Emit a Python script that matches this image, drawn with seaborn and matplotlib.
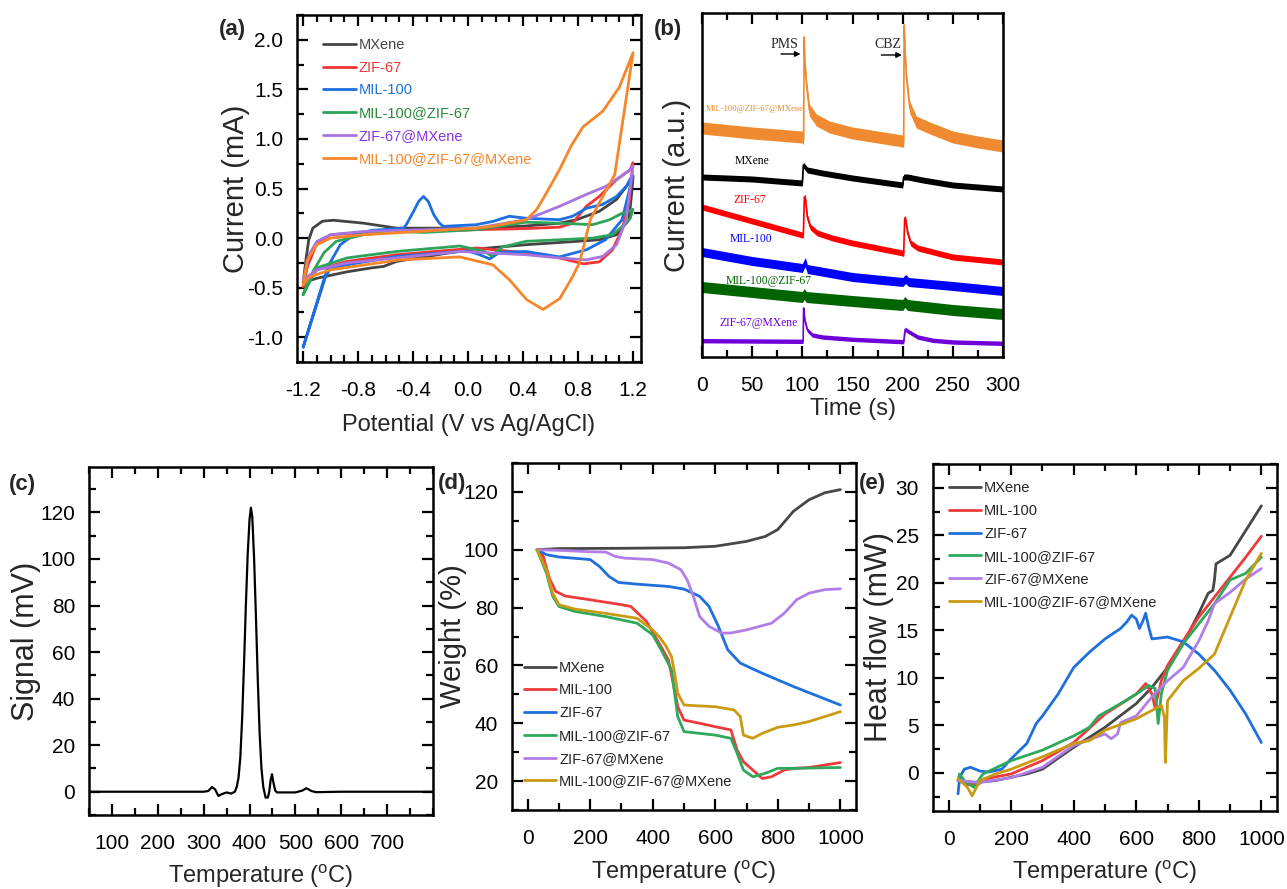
import numpy as np
import pandas as pd
import matplotlib
matplotlib.use('Agg')
import matplotlib.pyplot as plt
import seaborn as sns
from matplotlib.ticker import MultipleLocator, FormatStrFormatter

# ---------------- data: (a) CV loops ----------------
cv_names = ['MXene', 'ZIF-67', 'MIL-100', 'MIL-100@ZIF-67', 'ZIF-67@MXene', 'MIL-100@ZIF-67@MXene']
cv_colors = ['#444444', '#f03535', '#1c6fe0', '#2ea35a', '#a874e0', '#f5862a']
cv_text_colors = ['#444444', '#f03535', '#1c6fe0', '#2a8a3a', '#8a35e0', '#f5862a']

mxene_V = [-1.2, -1.18, -1.16, -1.13, -1.06, -0.98, -0.76, -0.52, 0.06, 0.4, 0.665, 0.79, 0.955, 1.08, 1.17, 1.2,
           1.19, 1.17, 1.08, 0.955, 0.79, 0.42, 0.0, -0.52, -0.615, -0.7, -0.88, -1.1, -1.2]
mxene_I = [-0.45, -0.22, -0.02, 0.10, 0.17, 0.18, 0.15, 0.10, 0.10, 0.12, 0.15, 0.185, 0.27, 0.39, 0.555, 0.62,
           0.45, 0.185, 0.034, -0.017, -0.033, -0.067, -0.118, -0.235, -0.286, -0.30, -0.34, -0.405, -0.45]

zif_V = [-1.2, -1.17, -1.1, -1.0, -0.76, -0.3, 0.06, 0.4, 0.665, 0.76, 0.86, 0.955, 1.08, 1.18, 1.2,
         1.17, 1.12, 1.05, 0.955, 0.84, 0.665, 0.42, 0.06, -0.52, -0.88, -1.1, -1.2]
zif_I = [-0.49, -0.29, -0.05, 0.034, 0.057, 0.07, 0.085, 0.095, 0.11, 0.15, 0.32, 0.42, 0.59, 0.69, 0.76,
         0.354, 0.085, -0.12, -0.24, -0.26, -0.2, -0.15, -0.1, -0.168, -0.235, -0.32, -0.49]

mil_V = [-1.2, -1.02, -0.93, -0.83, -0.70, -0.47, -0.45, -0.39, -0.36, -0.325, -0.29, -0.25, -0.21, -0.18, 0.06, 0.18,
         0.30, 0.42, 0.665, 0.76, 0.86, 0.98, 1.08, 1.15, 1.19, 1.2,
         1.18, 1.12, 1.0, 0.86, 0.665, 0.42, 0.23, 0.157, 0.085, 0.0, -0.52, -0.88, -1.0, -1.04, -1.2]
mil_I = [-1.1, -0.286, -0.067, 0.034, 0.078, 0.10, 0.135, 0.287, 0.37, 0.42, 0.37, 0.236, 0.152, 0.118, 0.135, 0.168,
         0.22, 0.2, 0.185, 0.22, 0.30, 0.34, 0.42, 0.52, 0.62, 0.63,
         0.52, 0.185, -0.017, -0.118, -0.19, -0.135, -0.143, -0.21, -0.168, -0.13, -0.185, -0.27, -0.30, -0.40, -1.1]

milzif_V = [-1.2, -1.15, -1.05, -0.96, -0.76, -0.52, -0.325, 0.06, 0.42, 0.665, 0.907, 1.03, 1.12, 1.17, 1.2,
            1.18, 1.15, 1.05, 0.907, 0.665, 0.42, 0.25, 0.17, 0.12, -0.06, -0.52, -0.88, -1.1, -1.2]
milzif_I = [-0.57, -0.39, -0.15, -0.033, 0.034, 0.067, 0.057, 0.085, 0.16, 0.15, 0.135, 0.185, 0.25, 0.27, 0.29,
            0.2, 0.15, 0.034, 0.0, -0.017, -0.033, -0.09, -0.18, -0.135, -0.08, -0.135, -0.2, -0.30, -0.57]

zifmx_V = [-1.2, -1.15, -1.1, -1.0, -0.76, 0.06, 0.42, 0.665, 0.86, 1.0, 1.1, 1.18, 1.2,
           1.18, 1.15, 1.08, 0.98, 0.86, 0.665, 0.42, -0.06, -0.52, -0.88, -1.1, -1.2]
zifmx_I = [-0.42, -0.15, -0.033, 0.034, 0.067, 0.10, 0.185, 0.32, 0.44, 0.52, 0.61, 0.69, 0.73,
           0.52, 0.185, -0.067, -0.185, -0.22, -0.2, -0.168, -0.135, -0.2, -0.25, -0.32, -0.42]

all_V = [-1.2, -1.17, -1.1, -1.0, -0.76, 0.06, 0.18, 0.425, 0.50, 0.57, 0.665, 0.75, 0.835, 0.98, 1.10, 1.2,
         1.067, 0.89, 0.81, 0.76, 0.667, 0.545, 0.425, 0.30, 0.18, -0.06, -0.5, -1.0, -1.15, -1.2]
all_I = [-0.47, -0.22, -0.067, 0.0, 0.034, 0.10, 0.12, 0.185, 0.29, 0.455, 0.69, 0.93, 1.12, 1.28, 1.52, 1.87,
         0.64, 0.19, -0.25, -0.39, -0.61, -0.72, -0.62, -0.42, -0.27, -0.19, -0.22, -0.32, -0.39, -0.47]

cv_V = [mxene_V, zif_V, mil_V, milzif_V, zifmx_V, all_V]
cv_I = [mxene_I, zif_I, mil_I, milzif_I, zifmx_I, all_I]

# ---------------- data: (b) i-t curves (a.u.) ----------------
it_names = ['MIL-100@ZIF-67@MXene', 'MXene', 'ZIF-67', 'MIL-100', 'MIL-100@ZIF-67', 'ZIF-67@MXene']
it_colors = ['#f08a30', '#000000', '#ff0000', '#0000ff', '#006400', '#7000d8']

it_t_orange = [0, 50, 100, 101.3, 101.8, 102.5, 104, 107, 114, 127, 150, 175, 200, 201, 201.5, 202.5, 203.7, 207, 213.6, 227, 250, 275, 300]
it_y_orange = [22.9, 22.4, 22.0, 21.8, 32.0, 29.5, 27.4, 24.7, 23.7, 23.0, 22.4, 22.0, 21.6, 21.5, 33.2, 30.5, 28.0, 25.0, 23.5, 22.9, 22.0, 21.5, 21.1]
it_t_black = [0, 50, 100, 101, 105, 120, 150, 200, 201, 205, 220, 250, 300]
it_y_black = [18.0, 17.8, 17.4, 19.2, 18.7, 18.4, 17.9, 17.2, 18.0, 18.0, 17.7, 17.2, 16.8]
it_t_red = [0, 50, 100, 101, 102, 103, 105, 108, 115, 130, 150, 175, 200, 201, 202, 203, 205, 208, 215, 250, 300]
it_y_red = [15.0, 13.6, 12.2, 12.2, 16.0, 15.9, 14.0, 13.0, 12.4, 11.9, 11.4, 10.9, 10.4, 10.3, 13.9, 13.7, 12.4, 11.4, 10.9, 10.0, 9.5]
it_t_blue = [0, 50, 100, 103, 105, 150, 200, 203, 206, 250, 300]
it_y_blue = [10.5, 9.6, 8.9, 9.5, 8.8, 8.0, 7.5, 7.8, 7.5, 7.1, 6.6]
it_t_green = [0, 50, 100, 102, 104, 150, 200, 202, 205, 250, 300]
it_y_green = [7.0, 6.5, 6.0, 6.3, 6.0, 5.6, 5.2, 5.5, 5.2, 4.7, 4.3]
it_t_purple = [0, 50, 100, 100.8, 101.3, 102.5, 105, 110, 120, 150, 200, 201, 202.5, 205, 215, 230, 250, 300]
it_y_purple = [1.63, 1.6, 1.57, 1.6, 4.9, 3.7, 2.7, 2.2, 2.0, 1.77, 1.53, 1.53, 2.77, 2.6, 2.0, 1.67, 1.5, 1.37]
it_t = [it_t_orange, it_t_black, it_t_red, it_t_blue, it_t_green, it_t_purple]
it_y = [it_y_orange, it_y_black, it_y_red, it_y_blue, it_y_green, it_y_purple]
it_label_t = [53, 50, 48, 49, 67, 56]
it_label_y = [24.8, 19.6, 15.7, 11.8, 7.6, 3.4]

# style: thickness of each current trace (noise band half-height, a.u.) and label sizes
it_band = [0.6, 0.3, 0.3, 0.45, 0.55, 0.22]
it_label_size = [6.2, 8.4, 8.4, 8.4, 8.4, 8.4]

# ---------------- data: (c) signal ----------------
c_T = [50, 100, 200, 300, 310, 318, 325, 332, 340, 350, 360, 368, 372, 376, 380, 384, 388, 392, 396, 400, 403,
       406, 410, 414, 418, 422, 426, 430, 435, 440, 443, 446, 449, 452, 456, 460, 480, 500, 515, 524, 535, 545,
       600, 700, 800]
c_S = [0, 0, 0, 0, 0.3, 2.0, 1.0, -1.8, -1.0, -0.3, -0.8, 0, 2, 6, 15, 32, 55, 80, 102, 117, 122,
       118, 100, 75, 48, 25, 10, 2, -2.5, -2.5, 0, 5, 7.5, 4, 0.5, -0.3, -0.3, -0.3, 0.5, 1.5, 0.3, -0.2,
       0, 0, 0]

# ---------------- data: (d) TGA ----------------
tg_names = ['MXene', 'MIL-100', 'ZIF-67', 'MIL-100@ZIF-67', 'ZIF-67@MXene', 'MIL-100@ZIF-67@MXene']
tg_colors = ['#474747', '#ef3b3b', '#1f6fdc', '#2ea85c', '#b07ee6', '#c99a12']
d_T_mx = [30, 100, 300, 500, 600, 700, 760, 800, 850, 900, 950, 1000]
d_W_mx = [100, 100.4, 100.5, 100.7, 101.2, 102.9, 104.6, 107, 113.3, 117.3, 119.7, 120.8]
d_T_mil = [30, 50, 70, 90, 120, 200, 300, 330, 380, 420, 450, 470, 480, 500, 550, 600, 650, 670, 690, 720, 750, 780, 820, 850, 900, 1000]
d_W_mil = [100, 97.7, 90, 85.6, 84, 82.7, 81, 80.4, 75.2, 67.7, 62, 51.5, 45.8, 41.1, 40, 38.8, 37.7, 30.7, 26.7, 23.8, 20.9, 21.5, 23.8, 24.4, 24.7, 26.4]
d_T_zif = [30, 60, 100, 200, 230, 260, 290, 350, 450, 500, 550, 580, 610, 640, 680, 750, 850, 1000]
d_W_zif = [100, 98.3, 97.5, 96.6, 94.2, 90.8, 88.7, 88.1, 87.3, 86.4, 83.9, 80.4, 73.5, 65.4, 60.8, 57.3, 52.7, 46.3]
d_T_mz = [30, 60, 80, 100, 150, 250, 350, 400, 430, 460, 470, 480, 500, 600, 650, 670, 690, 720, 760, 800, 850, 1000]
d_W_mz = [100, 92, 84, 80.4, 78.7, 76.9, 74.6, 70.6, 64.8, 58.5, 50.4, 42.3, 37.1, 35.9, 34.8, 29.6, 23.8, 21.5, 22.7, 24.4, 24.4, 24.7]
d_T_zm = [30, 100, 200, 250, 280, 310, 400, 450, 490, 510, 530, 550, 580, 620, 650, 700, 780, 820, 860, 900, 950, 1000]
d_W_zm = [100, 99.8, 99.3, 99.2, 97.7, 97.1, 96.6, 95.4, 93.1, 89.6, 83.9, 76.9, 73.5, 71.2, 71.2, 72.3, 74.6, 78, 82.7, 85, 86.2, 86.5]
d_T_all = [30, 60, 80, 100, 150, 250, 350, 400, 420, 440, 460, 470, 480, 500, 600, 660, 680, 690, 720, 750, 800, 850, 900, 1000]
d_W_all = [100, 93, 85, 81, 79.5, 78, 76.3, 72.3, 70, 67.1, 63.1, 57.3, 50.4, 46.3, 45.7, 44.6, 42.3, 35.9, 34.8, 36.5, 38.6, 39.4, 40.6, 44]
d_T = [d_T_mx, d_T_mil, d_T_zif, d_T_mz, d_T_zm, d_T_all]
d_W = [d_W_mx, d_W_mil, d_W_zif, d_W_mz, d_W_zm, d_W_all]

# ---------------- data: (e) DSC ----------------
e_T_mx = [30, 80, 150, 250, 300, 400, 500, 600, 650, 700, 750, 800, 830, 845, 850, 855, 880, 900, 950, 1000]
e_H_mx = [-0.8, -1.0, -0.8, -0.1, 0.4, 2.7, 4.8, 7.3, 9.0, 11.1, 13.6, 16.8, 18.9, 19.2, 20.3, 22.0, 22.5, 22.9, 25.5, 28.1]
e_T_mil = [30, 60, 90, 120, 200, 300, 400, 500, 600, 630, 650, 660, 680, 700, 750, 800, 850, 900, 950, 1000]
e_H_mil = [-0.8, -1.2, -1.3, -0.6, -0.1, 1.3, 3.2, 6.2, 8.3, 9.4, 8.3, 6.9, 9.7, 11.3, 13.9, 16.4, 18.5, 20.6, 22.7, 24.9]
e_T_zif = [30, 35, 50, 70, 100, 130, 170, 200, 250, 280, 300, 350, 400, 450, 500, 550, 570, 585, 600, 610, 620, 630, 640, 650, 700, 750, 800, 850, 900, 950, 1000]
e_H_zif = [-2.2, -0.5, 0.4, 0.6, 0.2, 0.1, 0.4, 1.5, 3.1, 5.2, 6.0, 8.3, 11.1, 12.7, 14.1, 15.2, 15.9, 16.6, 16.2, 15.2, 15.9, 16.8, 15.3, 14.1, 14.3, 13.8, 12.5, 10.8, 8.7, 6.2, 3.2]
e_T_mz = [30, 35, 50, 80, 110, 200, 300, 400, 450, 480, 550, 600, 640, 660, 670, 680, 700, 750, 800, 850, 900, 950, 1000]
e_H_mz = [-0.8, -0.1, -0.8, -1.5, -0.1, 1.3, 2.4, 3.9, 4.8, 6.0, 7.3, 8.3, 9.2, 8.9, 5.2, 8.3, 10.8, 13.6, 15.7, 17.8, 20.3, 21.0, 22.7]
e_T_zm = [30, 100, 200, 300, 400, 500, 520, 540, 550, 600, 650, 700, 750, 800, 830, 850, 900, 950, 1000]
e_H_zm = [-0.8, -1.0, -0.5, 0.6, 2.9, 4.1, 3.6, 4.1, 5.3, 6.0, 8.0, 9.7, 11.1, 13.9, 16.0, 17.8, 19.0, 20.4, 21.5]
e_T_all = [30, 60, 75, 100, 150, 200, 300, 400, 450, 500, 600, 680, 690, 693, 700, 750, 800, 850, 900, 950, 1000]
e_H_all = [-0.6, -1.5, -2.4, -0.8, -0.1, 0.4, 1.7, 3.1, 3.4, 4.5, 5.7, 7.1, 5.9, 1.1, 7.6, 9.7, 11.0, 12.5, 16.4, 20.3, 23.1]
e_T = [e_T_mx, e_T_mil, e_T_zif, e_T_mz, e_T_zm, e_T_all]
e_H = [e_H_mx, e_H_mil, e_H_zif, e_H_mz, e_H_zm, e_H_all]

# ---------------- style ----------------
sns.set_style('ticks')
FONT = ['Liberation Sans Narrow', 'Liberation Sans', 'DejaVu Sans']
plt.rcParams['font.family'] = FONT
plt.rcParams['mathtext.fontset'] = 'custom'
plt.rcParams['mathtext.rm'] = 'Liberation Sans'
plt.rcParams['axes.linewidth'] = 1.8
plt.rcParams['axes.edgecolor'] = '#000000'

TICK_FS = 15
XLABEL_FS = 17
YLABEL_FS = 21
LEG_FS = 10.5
PANEL_FS = 16
TEMP_LABEL = r'Temperature ($^\mathregular{o}$C)'
SERIF = ['Liberation Serif', 'DejaVu Serif']

fig = plt.figure(figsize=(12.87, 8.89), dpi=100)

def box(l, t, r, b):
    W, H = 1287.0, 889.0
    return [l / W, 1 - b / H, (r - l) / W, (b - t) / H]

def style_axes(ax, xpad=14, ypad=10):
    ax.tick_params(which='both', direction='in', top=True, right=True, colors='black',
                   labelsize=TICK_FS, width=1.6)
    ax.tick_params(which='major', length=8)
    ax.tick_params(which='minor', length=5)
    ax.tick_params(axis='x', which='major', pad=xpad)
    ax.tick_params(axis='y', which='major', pad=ypad)
    for s in ax.spines.values():
        s.set_linewidth(1.8)
        s.set_visible(True)

LEG_KW = dict(frameon=False, fontsize=LEG_FS, handlelength=2.2, handletextpad=0.2,
              labelspacing=0.6, borderpad=0, borderaxespad=0)

# ---------------- (a) ----------------
axa = fig.add_axes(box(297, 15, 641, 362))
for name, col, V, I in zip(cv_names, cv_colors, cv_V, cv_I):
    df = pd.DataFrame({'V': V, 'I': I})
    sns.lineplot(data=df, x='V', y='I', ax=axa, color=col, lw=2.0, sort=False, estimator=None, label=name)
axa.set_xlim(-1.245, 1.258)
axa.set_ylim(-1.25, 2.25)
axa.xaxis.set_major_locator(MultipleLocator(0.4))
axa.xaxis.set_minor_locator(MultipleLocator(0.1))
axa.yaxis.set_major_locator(MultipleLocator(0.5))
axa.yaxis.set_minor_locator(MultipleLocator(0.25))
axa.xaxis.set_major_formatter(FormatStrFormatter('%.1f'))
axa.yaxis.set_major_formatter(FormatStrFormatter('%.1f'))
style_axes(axa)
axa.set_xlabel('Potential (V vs Ag/AgCl)', fontsize=XLABEL_FS, labelpad=10)
axa.set_ylabel('Current (mA)', fontsize=YLABEL_FS, labelpad=-2)
leg = axa.legend(loc='upper left', bbox_to_anchor=(0.077, 0.934), **LEG_KW)
for txt, tc in zip(leg.get_texts(), cv_text_colors):
    txt.set_color(tc)
fig.text(232 / 1287, 1 - 30 / 889, '(a)', fontsize=PANEL_FS, fontweight='bold', ha='center', va='center')

# ---------------- (b) ----------------
axb = fig.add_axes(box(702, 13, 1003, 357))
for name, col, h, t, y in zip(it_names, it_colors, it_band, it_t, it_y):
    df = pd.DataFrame({'t': t + t, 'y': [v - h for v in y] + [v + h for v in y]})
    sns.lineplot(data=df, x='t', y='y', ax=axb, color=col, lw=1.2, estimator='mean',
                 errorbar=('pi', 100), err_kws={'alpha': 1.0, 'linewidth': 0})
for name, col, lt, ly, fs in zip(it_names, it_colors, it_label_t, it_label_y, it_label_size):
    axb.text(lt, ly, name, color=col, fontsize=fs, family=SERIF, ha='center', va='center')
axb.set_xlim(0, 300)
axb.set_ylim(0, 34.4)
axb.xaxis.set_major_locator(MultipleLocator(50))
axb.xaxis.set_minor_locator(MultipleLocator(25))
axb.set_yticks([])
style_axes(axb)
axb.tick_params(axis='y', which='both', left=False, right=False)
axb.set_xlabel('Time (s)', fontsize=XLABEL_FS, labelpad=2)
axb.set_ylabel('Current (a.u.)', fontsize=YLABEL_FS, labelpad=8)
axb.text(82, 31.3, 'PMS', fontsize=10, family=SERIF, ha='center', va='center')
axb.text(185, 31.3, 'CBZ', fontsize=10, family=SERIF, ha='center', va='center')
axb.annotate('', xy=(101, 30.3), xytext=(76, 30.3),
             arrowprops=dict(arrowstyle='-|>', color='black', lw=1.0, mutation_scale=8))
axb.annotate('', xy=(202, 30.2), xytext=(176, 30.2),
             arrowprops=dict(arrowstyle='-|>', color='black', lw=1.0, mutation_scale=8))
fig.text(668 / 1287, 1 - 30 / 889, '(b)', fontsize=PANEL_FS, fontweight='bold', ha='center', va='center')

# ---------------- (c) ----------------
axc = fig.add_axes(box(89, 467, 433, 815))
sns.lineplot(data=pd.DataFrame({'T': c_T, 'S': c_S}), x='T', y='S', ax=axc, color='black', lw=1.6,
             sort=False, estimator=None)
axc.set_xlim(50, 800)
axc.set_ylim(-10, 139.5)
axc.set_xticks([100, 200, 300, 400, 500, 600, 700])
axc.xaxis.set_minor_locator(MultipleLocator(50))
axc.yaxis.set_major_locator(MultipleLocator(20))
axc.yaxis.set_minor_locator(MultipleLocator(10))
style_axes(axc)
axc.set_xlabel(TEMP_LABEL, fontsize=XLABEL_FS, labelpad=6)
axc.set_ylabel('Signal (mV)', fontsize=YLABEL_FS + 1, labelpad=-1)
fig.text(22 / 1287, 1 - 485 / 889, '(c)', fontsize=PANEL_FS, fontweight='bold', ha='center', va='center')

# ---------------- (d) ----------------
axd = fig.add_axes(box(512, 463, 856, 810))
for name, col, T, W in zip(tg_names, tg_colors, d_T, d_W):
    sns.lineplot(data=pd.DataFrame({'T': T, 'W': W}), x='T', y='W', ax=axd, color=col, lw=2.0,
                 sort=False, estimator=None, label=name)
axd.set_xlim(-50, 1050)
axd.set_ylim(10, 130)
axd.xaxis.set_major_locator(MultipleLocator(200))
axd.xaxis.set_minor_locator(MultipleLocator(100))
axd.yaxis.set_major_locator(MultipleLocator(20))
axd.yaxis.set_minor_locator(MultipleLocator(10))
style_axes(axd)
axd.set_xlabel(TEMP_LABEL, fontsize=XLABEL_FS, labelpad=7)
axd.set_ylabel('Weight (%)', fontsize=YLABEL_FS, labelpad=-3)
axd.legend(loc='lower left', bbox_to_anchor=(0.035, 0.062), **LEG_KW)
fig.text(452 / 1287, 1 - 483 / 889, '(d)', fontsize=PANEL_FS, fontweight='bold', ha='center', va='center')

# ---------------- (e) ----------------
axe = fig.add_axes(box(933, 464, 1277, 811))
for name, col, T, Hf in zip(tg_names, tg_colors, e_T, e_H):
    sns.lineplot(data=pd.DataFrame({'T': T, 'H': Hf}), x='T', y='H', ax=axe, color=col, lw=2.0,
                 sort=False, estimator=None, label=name)
axe.set_xlim(-50, 1050)
axe.set_ylim(-4, 32.5)
axe.xaxis.set_major_locator(MultipleLocator(200))
axe.xaxis.set_minor_locator(MultipleLocator(100))
axe.yaxis.set_major_locator(MultipleLocator(5))
axe.yaxis.set_minor_locator(MultipleLocator(2.5))
style_axes(axe)
axe.set_xlabel(TEMP_LABEL, fontsize=XLABEL_FS, labelpad=6)
axe.set_ylabel('Heat flow (mW)', fontsize=YLABEL_FS + 1, labelpad=1.5)
axe.legend(loc='upper left', bbox_to_anchor=(0.047, 0.95), **LEG_KW)
fig.text(872 / 1287, 1 - 483 / 889, '(e)', fontsize=PANEL_FS, fontweight='bold', ha='center', va='center')

fig.savefig('out.png', dpi=100)
